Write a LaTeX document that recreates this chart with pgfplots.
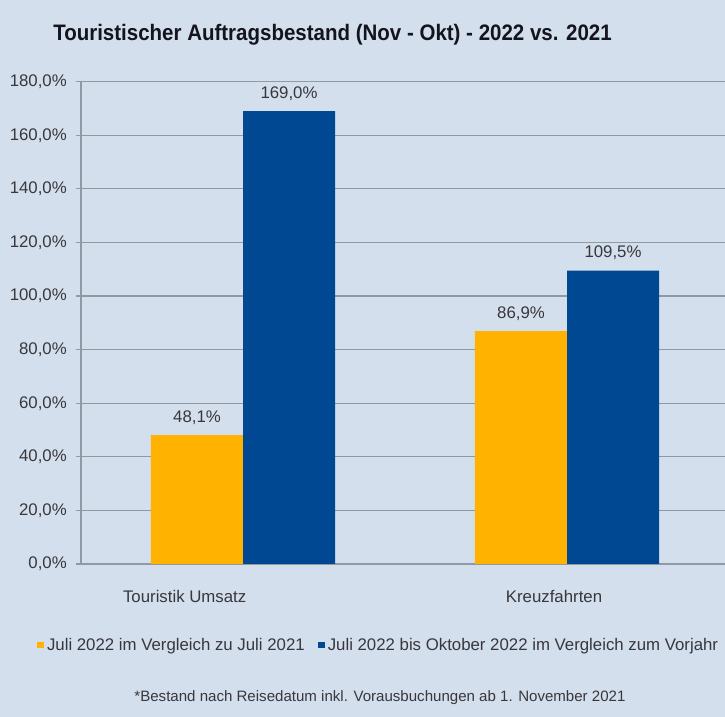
\documentclass[border=0pt]{standalone}
\usepackage{pgfplots}
\pgfplotsset{compat=1.18}
\usepackage{fontspec}
\setmainfont{Liberation Sans}

\definecolor{bgc}{RGB}{212,223,237}
\definecolor{gridc}{RGB}{145,153,163}
\definecolor{orangec}{RGB}{255,178,0}
\definecolor{bluec}{RGB}{0,72,145}
\definecolor{txt}{RGB}{55,55,60}
\definecolor{titlec}{RGB}{20,20,30}

\begin{document}
\begin{tikzpicture}
% background, 725 x 717 px at 0.75pt per px
\fill[bgc] (0,0) rectangle (543.75pt,537.75pt);
\path[use as bounding box] (0,0) rectangle (543.75pt,537.75pt);
\clip (0,0) rectangle (543.75pt,537.75pt);

\node[anchor=base west, inner sep=0pt, text=titlec,
      font=\fontsize{16.8}{18}\selectfont\bfseries] at (39.75pt,507pt)
  {\scalebox{0.915}[1]{Touristischer Auftragsbestand (Nov - Okt) - 2022 vs. 2021}};
\node[anchor=base, inner sep=0pt, text=txt,
      font=\fontsize{11.3}{13}\selectfont] at (285pt,11.25pt)
  {*Bestand nach Reisedatum inkl. Vorausbuchungen ab 1. November 2021};

\begin{axis}[
    at={(60.75pt,114.75pt)}, anchor=south west,
    scale only axis,
    width=486pt, height=361.7pt,
    xmin=-0.5, xmax=1.5,
    ymin=0, ymax=180,
    ybar=0pt,
    bar width=0.284,
    axis x line*=bottom,
    axis y line*=left,
    axis line style={draw=gridc, line width=0.9pt},
    ymajorgrids,
    grid style={draw=gridc, line width=0.9pt},
    ytick={0,20,...,180},
    ytick pos=left,
    tick align=outside,
    major tick length=3.75pt,
    y tick style={draw=gridc, line width=0.9pt},
    xtick={-0.18,0.96},
    xticklabels={Touristik Umsatz, Kreuzfahrten},
    x tick style={draw=none},
    xticklabel style={anchor=base, yshift=-25.5pt},
    yticklabel style={anchor=east, inner sep=0pt, xshift=-6.75pt},
    tick label style={font=\fontsize{12.6}{14}\selectfont, text=txt},
    yticklabel={\pgfmathprintnumber{\tick}\%},
    /pgf/number format/.cd, fixed, fixed zerofill, precision=1, use comma,
        assume math mode=true,
    /pgfplots/.cd,
    nodes near coords={\pgfmathprintnumber[fixed, fixed zerofill, precision=1, use comma]{\pgfplotspointmeta}\%},
    every node near coord/.append style={font=\fontsize{12.6}{14}\selectfont,
        text=txt, anchor=base, yshift=9.5pt},
    legend columns=2,
    legend style={at={(0.46,-0.168)}, anchor=center, draw=none, fill=none,
        font=\fontsize{12.6}{14}\selectfont, text=txt,
        /tikz/every even column/.append style={column sep=8pt}},
    legend image code/.code={\fill[#1] (0pt,-2.6pt) rectangle (5.25pt,2.6pt);},
]
\addplot[fill=orangec, draw=none] coordinates {(0,48.1) (1,86.9)};
\addplot[fill=bluec, draw=none] coordinates {(0,169.0) (1,109.5)};
\legend{Juli 2022 im Vergleich zu Juli 2021, Juli 2022 bis Oktober 2022 im Vergleich zum Vorjahr}
\end{axis}
\end{tikzpicture}
\end{document}
